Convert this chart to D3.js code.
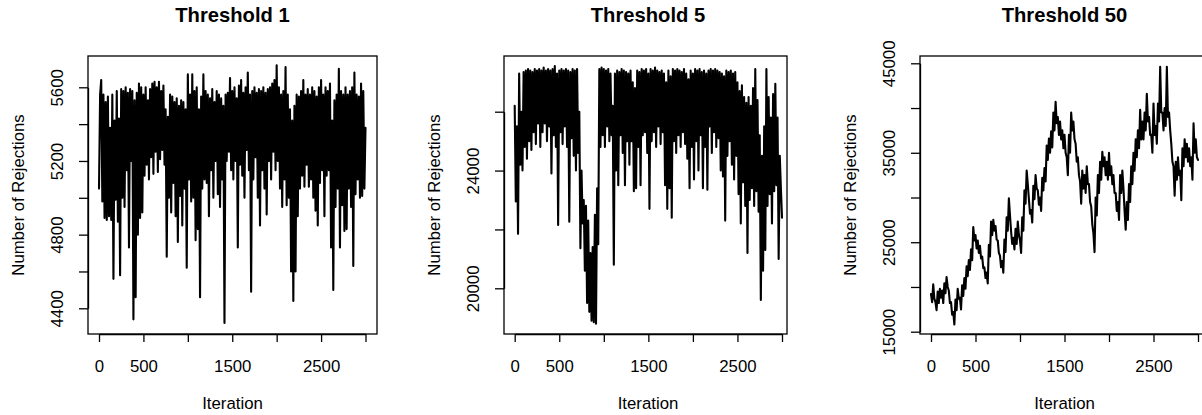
<!DOCTYPE html>
<html>
<head>
<meta charset="utf-8">
<script src="https://cdn.jsdelivr.net/npm/d3@7"></script>
<style>
  body { margin: 0; background: #fff; }
  svg { display: block; }
  text { font-family: "Liberation Sans", Arial, Helvetica, sans-serif; fill: #000; }
</style>
</head>
<body>
<div id="chart"></div>
<script>
// one value every 12.5 iterations, 0 .. 3000
const iterStep = 12.5;
const xTicks = [0, 500, 1000, 1500, 2000, 2500, 3000];
const xTickLabels = [0, 500, 1500, 2500];

const titles = ["Threshold 1", "Threshold 5", "Threshold 50"];

const thr1YTicks = [4400, 4600, 4800, 5000, 5200, 5400, 5600];
const thr1YLabels = [4400, 4800, 5200, 5600];
const thr5YTicks = [20000, 22000, 24000, 26000];
const thr5YLabels = [20000, 24000];
const thr50YTicks = [15000, 20000, 25000, 30000, 35000, 40000, 45000];
const thr50YLabels = [15000, 25000, 35000, 45000];

const thr1Values = [
  5050, 5560, 5640, 4980, 5560, 4890, 5520, 4880, 5550, 4900,
  5380, 4880, 5560, 4560, 5420, 4990, 5580, 4870, 5430, 4580,
  5590, 5000, 5580, 4950, 5600, 5150, 5570, 4730, 5590, 5200,
  5580, 4340, 5530, 4460, 5570, 4800, 5620, 4890, 5600, 4920,
  5560, 5120, 5600, 5180, 5530, 5100, 5590, 5220, 5620, 5130,
  5630, 5250, 5600, 5140, 5630, 5210, 5580, 5260, 5610, 5180,
  5480, 4680, 5440, 5000, 5560, 4920, 5550, 5080, 5520, 4900,
  5540, 4760, 5500, 5010, 5530, 4850, 5520, 5050, 5480, 4620,
  5670, 5100, 5560, 4980, 5670, 5000, 5580, 4770, 5600, 4830,
  5480, 4460, 5550, 5050, 5670, 5100, 5580, 5080, 5560, 4900,
  5540, 5150, 5590, 5000, 5520, 5200, 5580, 5020, 5560, 4950,
  5540, 5100, 5500, 4320, 5560, 5200, 5570, 5250, 5650, 5150,
  5580, 5100, 5600, 5200, 5540, 4730, 5610, 5180, 5640, 5120,
  5570, 5000, 5600, 5260, 5680, 5150, 5560, 4490, 5580, 5100,
  5600, 5220, 5570, 5000, 5590, 4850, 5580, 5150, 5600, 5050,
  5570, 4910, 5590, 5200, 5600, 5100, 5620, 5250, 5640, 5150,
  5720, 5200, 5600, 5050, 5560, 4950, 5580, 5100, 5710, 4960,
  5560, 5000, 5480, 4600, 5420, 4440, 5500, 4600, 5560, 4900,
  5550, 5050, 5580, 5120, 5640, 5060, 5560, 5180, 5590, 5060,
  5560, 5100, 5600, 5000, 5580, 4930, 5550, 4850, 5600, 5080,
  5640, 5150, 5560, 4900, 5600, 5120, 5580, 5150, 5620, 4730,
  5420, 4500, 5530, 4950, 5560, 5050, 5700, 4730, 5580, 4960,
  5560, 4820, 5600, 4830, 5560, 5050, 5580, 4950, 5600, 4630,
  5680, 5020, 5560, 5100, 5550, 5000, 5620, 5010, 5580, 5050,
  5380
];

const thr5Values = [
  26200, 22950, 25500, 21850, 27300, 24200, 26000, 24000, 27350, 24800,
  27400, 24400, 27450, 25000, 27400, 24700, 27350, 25300, 27450, 24900,
  27400, 25600, 27450, 24800, 27400, 25300, 27500, 25600, 27400, 25000,
  27450, 25500, 27400, 23900, 27450, 25200, 27550, 24800, 27300, 22150,
  27400, 25300, 27450, 24900, 27400, 25500, 27450, 24800, 27400, 22260,
  27350, 25100, 27450, 24500, 27400, 24000, 27450, 24600, 26000, 21360,
  24000, 22200, 23000, 20600, 22800, 19500, 22300, 19200, 21200, 18900,
  21400, 18850, 22500, 18800, 23400, 21500, 27450, 24800, 27500, 25200,
  27450, 24800, 27400, 25500, 27450, 25000, 27300, 25200, 26200, 20800,
  27300, 24000, 27400, 23500, 27350, 25200, 27450, 24600, 27400, 23500,
  27350, 25000, 27300, 24200, 27400, 25000, 27000, 23300, 26800, 23400,
  27400, 24800, 27350, 23500, 27450, 25200, 27400, 25300, 27450, 24600,
  27300, 22700, 27450, 25000, 27400, 25300, 27500, 24800, 27400, 25500,
  27350, 24900, 27400, 25300, 27300, 23500, 27000, 22700, 27400, 23400,
  27200, 22400, 27450, 25000, 27400, 24600, 27450, 25200, 27400, 24800,
  27350, 25300, 27450, 24900, 27300, 24400, 27100, 23400, 27400, 24800,
  27300, 23700, 27450, 25000, 27400, 24000, 27450, 25200, 27350, 23400,
  27400, 24800, 27300, 23350, 27400, 25500, 27450, 24600, 27400, 25300,
  27450, 24800, 27400, 25100, 27350, 24000, 27300, 23800, 27200, 22300,
  27400, 24500, 27350, 25000, 27400, 24200, 27300, 23700, 27350, 24500,
  27000, 23200, 26700, 22200, 26900, 23600, 26500, 22800, 26300, 21200,
  26500, 23000, 26200, 23400, 26800, 22800, 27450, 23300, 26400, 22600,
  25200, 19600, 24500, 20600, 25500, 21300, 27450, 22800, 26500, 23200,
  25800, 22200, 26600, 23300, 26950, 23500, 25800, 21000, 24500, 23400,
  22400
];

const thr50Values = [
  19200, 18300, 20300, 18700, 18300, 17400, 19500, 18200, 19800, 18800,
  19600, 18200, 20400, 19300, 21100, 20000, 19600, 18200, 18300, 16900,
  17200, 15800, 18600, 17400, 19800, 18700, 18800, 17500, 20200, 19000,
  21000, 19800, 22300, 21200, 23000, 21900, 24200, 23000, 26700, 25200,
  25800, 24300, 25200, 23800, 24600, 23200, 23400, 22100, 22200, 21000,
  21600, 20400, 24700, 23400, 27300, 25800, 27500, 26300, 26800, 25300,
  25200, 23800, 23500, 22200, 22900, 21600, 25300, 23900, 27800, 26300,
  29900, 28000, 26200, 24800, 25500, 24200, 26500, 24800, 27300, 25800,
  25200, 23800, 27800, 26300, 30800, 29300, 33000, 31500, 29800, 28200,
  28600, 27200, 31300, 29800, 32500, 31000, 30800, 29200, 30000, 28500,
  32200, 30800, 33300, 31800, 35800, 34200, 36600, 35000, 37400, 35600,
  39500, 37500, 40700, 38300, 39000, 37000, 38500, 36500, 37500, 35500,
  37000, 35000, 34500, 32500, 37000, 35000, 39500, 37500, 38500, 36500,
  36000, 34000, 34500, 32500, 31800, 29300, 33000, 31000, 32500, 30500,
  33500, 31500, 31500, 29500, 29000, 27000, 26000, 23900, 30000, 28000,
  32500, 30500, 34000, 32000, 35100, 33500, 34500, 32500, 34000, 32000,
  35000, 32500, 33500, 31500, 32500, 30500, 30500, 28500, 29500, 27500,
  32500, 30500, 33000, 31000, 28500, 26400, 29500, 27500, 31500, 29500,
  33500, 31500, 35000, 33000, 36500, 34500, 37500, 35500, 39800, 36500,
  38500, 36500, 39500, 37500, 41600, 38500, 39000, 37000, 37000, 35000,
  40500, 37000, 38000, 36000, 40500, 38500, 44600, 39500, 39500, 37500,
  40000, 38000, 44600, 39000, 39500, 37500, 36000, 34000, 33500, 30200,
  34000, 32000, 34500, 32500, 33000, 29700, 35500, 33500, 36500, 34500,
  36000, 34000, 35500, 33500, 34500, 32000, 38300, 35000, 36500, 34500,
  34200
];

const width = 1202;
const height = 415;
const fontSize = 16.8;
const titleSize = 20.2;

// plot-region layout per panel (pixels)
const panels = [
  {
    title: titles[0], values: thr1Values, yTicks: thr1YTicks, yLabels: thr1YLabels,
    box: { left: 88, top: 56, right: 377, bottom: 334 },
    xRange: [99, 365.5], yRange: [308.3, 87.3], titleX: 232.5,
  },
  {
    title: titles[1], values: thr5Values, yTicks: thr5YTicks, yLabels: thr5YLabels,
    box: { left: 504, top: 56, right: 787, bottom: 334 },
    xRange: [514.7, 782], yRange: [288.3, 111.7], titleX: 648,
  },
  {
    title: titles[2], values: thr50Values, yTicks: thr50YTicks, yLabels: thr50YLabels,
    box: { left: 920, top: 56, right: 1209, bottom: 334 },
    xRange: [931, 1198], yRange: [331.7, 63.3], titleX: 1064.5,
  },
];

const svg = d3
  .select("#chart")
  .append("svg")
  .attr("width", width)
  .attr("height", height)
  .style("background", "#fff");

const drawPanel = (p) => {
  const { box } = p;
  const x = d3.scaleLinear().domain([0, 3000]).range(p.xRange);
  const y = d3.scaleLinear().domain(d3.extent(p.yTicks)).range(p.yRange);

  const g = svg.append("g");

  const line = d3
    .line()
    .x((d, i) => x(i * iterStep))
    .y((d) => y(d));

  g.append("path")
    .datum(p.values)
    .attr("d", line)
    .attr("fill", "none")
    .attr("stroke", "#000")
    .attr("stroke-width", 2.1)
    .attr("stroke-linejoin", "round")
    .attr("stroke-linecap", "round");

  g.append("rect")
    .attr("x", box.left)
    .attr("y", box.top)
    .attr("width", box.right - box.left)
    .attr("height", box.bottom - box.top)
    .attr("fill", "none")
    .attr("stroke", "#000")
    .attr("stroke-width", 1.3);

  const xAxis = g
    .append("g")
    .attr("transform", `translate(0,${box.bottom})`)
    .call(
      d3
        .axisBottom(x)
        .tickValues(xTicks)
        .tickSize(8)
        .tickSizeOuter(0)
        .tickFormat((d) => (xTickLabels.includes(d) ? d : ""))
    );
  xAxis
    .selectAll("text")
    .attr("y", 37.7)
    .attr("dy", null)
    .attr("font-size", fontSize);

  const yAxis = g
    .append("g")
    .attr("transform", `translate(${box.left},0)`)
    .call(
      d3
        .axisLeft(y)
        .tickValues(p.yTicks)
        .tickSize(9)
        .tickSizeOuter(0)
        .tickFormat((d) => (p.yLabels.includes(d) ? d : ""))
    );
  yAxis
    .selectAll("text")
    .attr("x", 0)
    .attr("y", -25)
    .attr("dy", null)
    .attr("text-anchor", "middle")
    .attr("transform", "rotate(-90)")
    .attr("font-size", fontSize);

  g.selectAll(".domain, .tick line")
    .attr("stroke", "#000")
    .attr("stroke-width", 1.3);
  g.selectAll(".tick text").attr("fill", "#000").style("font-family", null);

  g.append("text")
    .attr("x", p.titleX)
    .attr("y", 21.5)
    .attr("text-anchor", "middle")
    .attr("font-size", titleSize)
    .attr("font-weight", "bold")
    .text(p.title);

  g.append("text")
    .attr("x", p.titleX)
    .attr("y", 409)
    .attr("text-anchor", "middle")
    .attr("font-size", fontSize)
    .text("Iteration");

  g.append("text")
    .attr("transform", `translate(${box.left - 64.5},${(box.top + box.bottom) / 2}) rotate(-90)`)
    .attr("text-anchor", "middle")
    .attr("font-size", fontSize)
    .text("Number of Rejections");
};

panels.forEach(drawPanel);
</script>
</body>
</html>
